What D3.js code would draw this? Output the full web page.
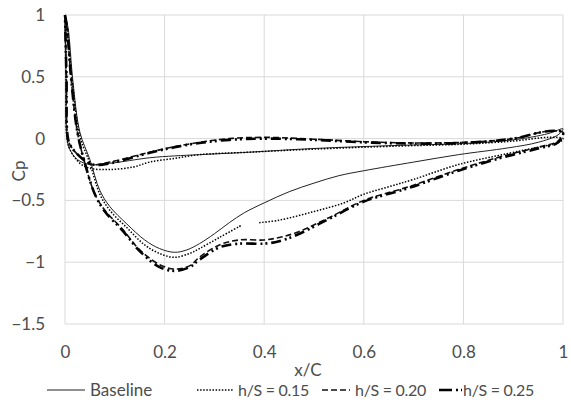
<!DOCTYPE html>
<html>
<head>
<meta charset="utf-8">
<script src="https://cdn.jsdelivr.net/npm/d3@7"></script>
<style>
  body { margin: 0; background: #fff; }
  svg { display: block; font-family: Lato, "Open Sans", sans-serif; }
</style>
</head>
<body>
<div id="container"><svg></svg></div>
<script>
let width = 571, height = 403;

// tick values
let xTicks = [0, 0.2, 0.4, 0.6, 0.8, 1];
let yTicks = [1, 0.5, 0, -0.5, -1, -1.5];

// upper (suction) surface, leading edge -> trailing edge, [x/C, Cp]
let baselineUpper = [[0, 1], [0.006, 0.9], [0.016, 0.46], [0.03, 0.05], [0.05, -0.17], [0.07, -0.42], [0.09, -0.55],
  [0.124, -0.69], [0.16, -0.82], [0.19, -0.89], [0.22, -0.92], [0.245, -0.9], [0.27, -0.85], [0.3, -0.77],
  [0.33, -0.68], [0.36, -0.6], [0.4, -0.52], [0.45, -0.43], [0.5, -0.36], [0.55, -0.3], [0.6, -0.26],
  [0.7, -0.19], [0.79, -0.13], [0.89, -0.075], [0.95, -0.03], [0.99, 0.03], [1, 0.08]];
let h015Upper = [[0, 1], [0.004, 0.9], [0.015, 0.45], [0.03, 0.02], [0.05, -0.2], [0.07, -0.45], [0.09, -0.58],
  [0.124, -0.72], [0.16, -0.86], [0.19, -0.93], [0.22, -0.96], [0.25, -0.93], [0.27, -0.89], [0.31, -0.8],
  [0.355, -0.7], null, [0.39, -0.68], [0.43, -0.66], [0.5, -0.59], [0.56, -0.52], [0.6, -0.45], [0.65, -0.39],
  [0.7, -0.33], [0.79, -0.21], [0.89, -0.12], [0.95, -0.07], [0.99, -0.035], [1, 0.0]];
let h020Upper = [[0, 1], [0.004, 0.9], [0.012, 0.5], [0.025, 0.05], [0.04, -0.2], [0.06, -0.45], [0.08, -0.58],
  [0.117, -0.74], [0.15, -0.9], [0.19, -1.02], [0.22, -1.055], [0.25, -1.03], [0.27, -0.96], [0.31, -0.86],
  [0.35, -0.82], [0.4, -0.82], [0.43, -0.8], [0.465, -0.76], [0.53, -0.64], [0.6, -0.5], [0.69, -0.39],
  [0.79, -0.25], [0.89, -0.13], [0.95, -0.07], [0.99, -0.02], [1, 0.05]];
let h025Upper = [[0, 1], [0.004, 0.9], [0.012, 0.5], [0.025, 0.05], [0.04, -0.2], [0.06, -0.45], [0.08, -0.59],
  [0.117, -0.75], [0.15, -0.91], [0.19, -1.04], [0.22, -1.07], [0.25, -1.04], [0.27, -0.98], [0.31, -0.88],
  [0.35, -0.85], [0.4, -0.85], [0.43, -0.83], [0.465, -0.78], [0.53, -0.65], [0.6, -0.51], [0.69, -0.4],
  [0.79, -0.26], [0.89, -0.14], [0.95, -0.08], [0.99, -0.03], [1, 0.05]];

// lower (pressure) surface, trailing edge -> leading edge
let baselineLower = [[1, 0.08], [0.97, 0.04], [0.9, -0.01], [0.8, -0.04], [0.67, -0.055], [0.5, -0.08],
  [0.37, -0.11], [0.27, -0.13], [0.22, -0.14], [0.17, -0.155], [0.09, -0.2], [0.05, -0.21], [0.025, -0.17],
  [0.01, -0.09], [0.004, 0.0], [0.002, 0.5], [0, 1]];
let h015Lower = [[1, 0.03], [0.97, 0.01], [0.9, -0.02], [0.8, -0.045], [0.67, -0.06], [0.5, -0.085],
  [0.37, -0.11], [0.27, -0.13], [0.22, -0.16], [0.17, -0.19], [0.137, -0.23], [0.09, -0.25], [0.05, -0.24],
  [0.03, -0.2], [0.01, -0.09], [0.004, 0.0], [0.002, 0.5], [0, 1]];
let h020Lower = [[1, 0.1], [0.97, 0.06], [0.9, 0.0], [0.8, -0.03], [0.7, -0.035], [0.6, -0.025], [0.5, -0.005],
  [0.4, 0.01], [0.33, 0.0], [0.27, -0.03], [0.22, -0.065], [0.17, -0.11], [0.09, -0.19], [0.056, -0.21],
  [0.037, -0.17], [0.013, -0.07], [0.006, 0.0], [0.003, 0.5], [0, 1]];
let h025Lower = [[1, 0.1], [0.97, 0.06], [0.9, 0.0], [0.8, -0.035], [0.7, -0.04], [0.6, -0.03], [0.5, -0.01],
  [0.4, 0.0], [0.33, -0.01], [0.27, -0.035], [0.22, -0.07], [0.17, -0.115], [0.09, -0.2], [0.056, -0.21],
  [0.037, -0.17], [0.013, -0.07], [0.006, 0.0], [0.003, 0.5], [0, 1]];

let seriesNames = ['Baseline', 'h/S = 0.15', 'h/S = 0.20', 'h/S = 0.25'];

let x, y;

function draw_grid(svg) {
    let g = svg.append('g');
    g.selectAll('line.gx')
        .data(xTicks)
        .join('line')
        .attr('x1', d => x(d)).attr('x2', d => x(d))
        .attr('y1', y(1)).attr('y2', y(-1.5))
        .attr('stroke', '#d9d9d9').attr('stroke-width', 1);
    g.selectAll('line.gy')
        .data(yTicks)
        .join('line')
        .attr('x1', x(0)).attr('x2', x(1))
        .attr('y1', d => y(d)).attr('y2', d => y(d))
        .attr('stroke', '#d9d9d9').attr('stroke-width', 1);
}

function draw_axes(svg) {
    // y axis labels
    let ya = svg.append('g')
        .attr('transform', `translate(${x(0) - 20},0)`)
        .call(d3.axisLeft(y).tickValues(yTicks).tickSize(0).tickPadding(0).tickFormat(d => d3.format('')(d)));
    ya.select('.domain').remove();
    ya.selectAll('text').attr('font-size', 17).attr('fill', '#4d4d4d').attr('font-family', 'Lato, sans-serif');

    let xa = svg.append('g')
        .attr('transform', `translate(0,${y(-1.5) + 22})`)
        .call(d3.axisBottom(x).tickValues(xTicks).tickSize(0).tickPadding(0).tickFormat(d => d3.format('')(d)));
    xa.select('.domain').remove();
    xa.selectAll('text').attr('font-size', 17).attr('fill', '#4d4d4d').attr('font-family', 'Lato, sans-serif');

    svg.append('text')
        .attr('x', 308).attr('y', 376)
        .attr('text-anchor', 'middle')
        .attr('font-size', 17).attr('fill', '#4d4d4d')
        .text('x/C');
    svg.append('text')
        .attr('transform', 'translate(25,171) rotate(-90)')
        .attr('text-anchor', 'middle')
        .attr('font-size', 17).attr('fill', '#4d4d4d')
        .text('Cp');
}

let styles = [
    { w: 1, dash: null, cap: 'butt', color: '#222' },
    { w: 1.5, dash: '1.5,1.6', cap: 'butt', color: '#000' },
    { w: 1.6, dash: '6,3', cap: 'butt', color: '#111' },
    { w: 2.6, dash: '10,4,2,3,2,4', cap: 'butt', color: '#000' }
];

function draw_series(svg) {
    let loops = [
        baselineUpper.concat(baselineLower.slice(1)),
        h015Upper.concat(h015Lower.slice(1)),
        h020Upper.concat(h020Lower.slice(1)),
        h025Upper.concat(h025Lower.slice(1))
    ];
    let line = d3.line()
        .defined(d => d !== null)
        .x(d => x(d[0]))
        .y(d => y(d[1]))
        .curve(d3.curveCatmullRom.alpha(0.5));

    svg.append('g')
        .selectAll('path')
        .data(loops)
        .join('path')
        .attr('d', d => line(d))
        .attr('fill', 'none')
        .attr('stroke', (d, i) => styles[i].color)
        .attr('stroke-width', (d, i) => styles[i].w)
        .attr('stroke-dasharray', (d, i) => styles[i].dash)
        .attr('stroke-linecap', (d, i) => styles[i].cap)
        .attr('stroke-linejoin', 'round');
}

function draw_legend(svg) {
    let items = [
        { x1: 47, x2: 85, tx: 90 },
        { x1: 197, x2: 233, tx: 238 },
        { x1: 322, x2: 350, tx: 355 },
        { x1: 439, x2: 462, tx: 463 }
    ];
    let g = svg.append('g');
    items.forEach((it, i) => {
        g.append('line')
            .attr('x1', it.x1).attr('x2', it.x2)
            .attr('y1', 390).attr('y2', 390)
            .attr('stroke', styles[i].color)
            .attr('stroke-width', styles[i].w)
            .attr('stroke-dasharray', i == 3 ? '13,4,2,3,2' : styles[i].dash)
            .attr('stroke-linecap', styles[i].cap);
        g.append('text')
            .attr('x', it.tx).attr('y', 396)
            .attr('font-size', i == 0 ? 17 : 16)
            .attr('letter-spacing', i == 0 ? 0 : -0.3)
            .attr('fill', '#4d4d4d')
            .text(seriesNames[i]);
    });
}

function main() {
    let svg = d3.select('#container').select('svg')
        .attr('width', width)
        .attr('height', height);

    x = d3.scaleLinear().domain([0, 1]).range([65, 563]);
    y = d3.scaleLinear().domain([-1.5, 1]).range([324, 15]);

    draw_grid(svg);
    draw_axes(svg);
    draw_series(svg);
    draw_legend(svg);
}

main();
</script>
</body>
</html>
